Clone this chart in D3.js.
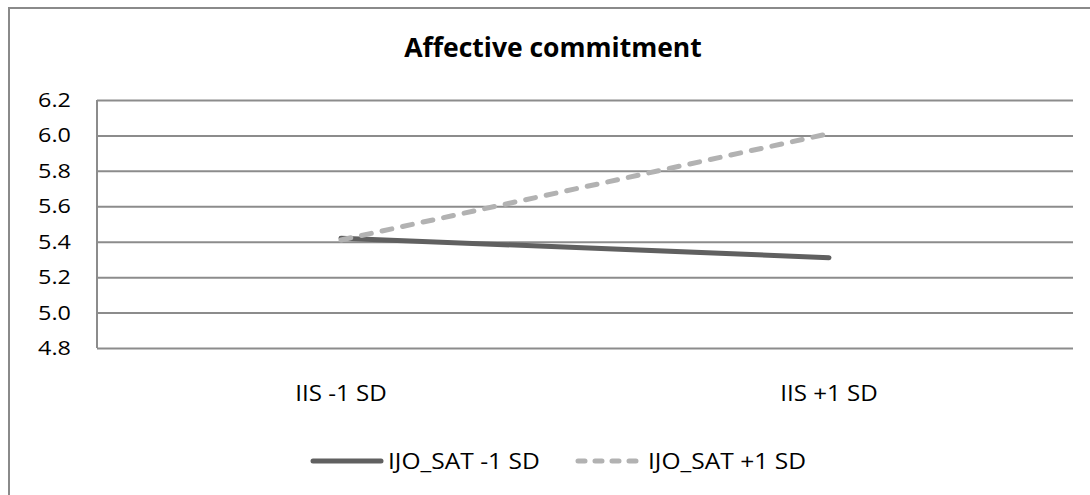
<!DOCTYPE html>
<html>
<head>
<meta charset="utf-8">
<script src="https://cdn.jsdelivr.net/npm/d3@7"></script>
<style>
  html, body { margin: 0; padding: 0; background: #fff; }
  svg { display: block; }
  text { font-family: "Open Sans", sans-serif; fill: #000; }
</style>
</head>
<body>
<svg id="chart" width="1090" height="495"></svg>
<script>
// Simple-slopes data: affective commitment at low / high IIS
const categories = ["IIS -1 SD", "IIS +1 SD"];
const seriesNames = ["IJO_SAT -1 SD", "IJO_SAT +1 SD"];
const lowSatValues = [5.42, 5.31];
const highSatValues = [5.41, 6.01];
const yTicks = [4.8, 5.0, 5.2, 5.4, 5.6, 5.8, 6.0, 6.2];
const chartTitle = "Affective commitment";

const series = [
  { name: seriesNames[0], values: lowSatValues, color: "#606060", dash: null, legendDash: null },
  { name: seriesNames[1], values: highSatValues, color: "#b2b2b2", dash: "10,11", legendDash: "7,10" }
];

const svg = d3.select("#chart");
const plot = { left: 97, right: 1073, top: 100, bottom: 348 };

// chart area frame (top and left edges visible)
svg.append("path")
  .attr("d", "M9,1100 L9,8 L1100,8")
  .attr("fill", "none").attr("stroke", "#8a8a8a").attr("stroke-width", 2);

const x = d3.scaleBand().domain(categories).range([plot.left, plot.right]);
const y = d3.scaleLinear().domain([4.8, 6.2]).range([plot.bottom, plot.top]);

// horizontal gridlines
svg.append("g")
  .attr("transform", `translate(${plot.left},0)`)
  .call(d3.axisLeft(y).tickValues(yTicks).tickSize(-(plot.right - plot.left)).tickFormat(""))
  .call(g => g.select(".domain").remove())
  .call(g => g.selectAll("line").attr("stroke", "#8c8c8c").attr("stroke-width", 2));

// vertical axis line
svg.append("line")
  .attr("x1", plot.left).attr("x2", plot.left)
  .attr("y1", y(6.2)).attr("y2", y(4.8))
  .attr("stroke", "#8c8c8c").attr("stroke-width", 2);

function stretchedText(parent, str, px, py, size, anchor, sx) {
  return parent.append("text")
    .attr("transform", `translate(${px},${py}) scale(${sx},1)`)
    .attr("text-anchor", anchor)
    .attr("font-size", size)
    .text(str);
}

// y tick labels
yTicks.forEach(t => {
  stretchedText(svg, d3.format(".1f")(t), 71, y(t) + 7, 20, "end", 1.17);
});

// category labels
categories.forEach(c => {
  stretchedText(svg, c, x(c) + x.bandwidth() / 2, 401, 21, "middle", 1.15);
});

// title
svg.append("text")
  .attr("x", 553).attr("y", 57)
  .attr("text-anchor", "middle")
  .attr("font-size", 26.5).attr("font-weight", 700)
  .text(chartTitle);

// series lines
const line = d3.line()
  .x((d, i) => x(categories[i]) + x.bandwidth() / 2)
  .y(d => y(d));

series.forEach(s => {
  svg.append("path")
    .datum(s.values)
    .attr("d", line)
    .attr("fill", "none")
    .attr("stroke", s.color)
    .attr("stroke-width", 5)
    .attr("stroke-linecap", "round")
    .attr("stroke-dasharray", s.dash);
});

// legend
const legendItems = [
  { x0: 313, x1: 381, tx: 388 },
  { x0: 578, x1: 643, tx: 648 }
];
const ly = 461;
series.forEach((s, i) => {
  const li = legendItems[i];
  svg.append("line")
    .attr("x1", li.x0).attr("x2", li.x1)
    .attr("y1", ly).attr("y2", ly)
    .attr("stroke", s.color).attr("stroke-width", 5)
    .attr("stroke-linecap", "round")
    .attr("stroke-dasharray", s.legendDash);
  stretchedText(svg, s.name, li.tx, ly + 8, 21, "start", 1.17);
});
</script>
</body>
</html>
